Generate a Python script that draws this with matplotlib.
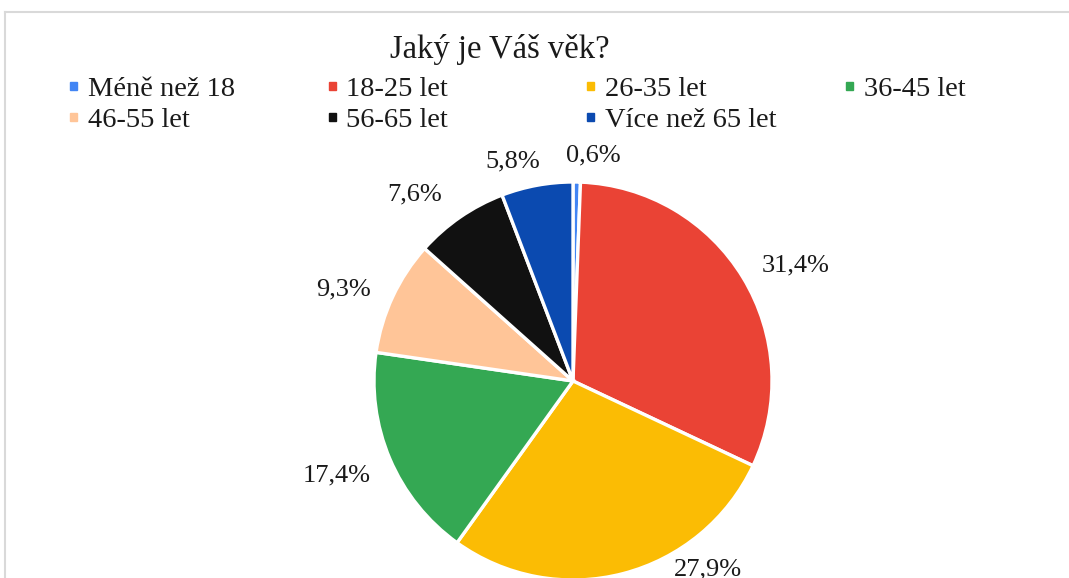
import matplotlib.pyplot as plt
from matplotlib.patches import Rectangle
from matplotlib.lines import Line2D

categories = ["Méně než 18", "18-25 let", "26-35 let", "36-45 let",
              "46-55 let", "56-65 let", "Více než 65 let"]
shares = [0.6, 31.4, 27.9, 17.4, 9.3, 7.6, 5.8]
labels = ["0,6%", "31,4%", "27,9%", "17,4%", "9,3%", "7,6%", "5,8%"]
colors = ["#4285F4", "#EA4335", "#FBBC04", "#34A853",
          "#FFC598", "#111111", "#0B4AB0"]

# label anchors (centre x, baseline y) in pie-radius units, best-fit like the original
label_pos = [(0.10, 1.102), (1.121, 0.548), (0.678, -0.975), (-1.186, -0.503),
             (-1.151, 0.429), (-0.794, 0.905), (-0.302, 1.072)]

plt.rcParams["font.family"] = ["Liberation Serif", "DejaVu Serif"]
TXT = "#1a1a1a"

W, H = 1069, 578
fig = plt.figure(figsize=(W / 100, H / 100), dpi=100)

# frame lines (top and left)
fig.add_artist(Line2D([5 / W, 1], [1 - 12 / H, 1 - 12 / H], color="#d9d9d9", lw=1.5))
fig.add_artist(Line2D([5 / W, 5 / W], [0, 1 - 12 / H], color="#d9d9d9", lw=1.5))

cx, cy, r = 573, 381, 199
ax = fig.add_axes([(cx - r) / W, (H - cy - r) / H, 2 * r / W, 2 * r / H])
ax.pie(shares, colors=colors, startangle=90, counterclock=False, radius=1,
       wedgeprops=dict(edgecolor="white", linewidth=2.4))
ax.set_xlim(-1, 1)
ax.set_ylim(-1, 1)
ax.set_aspect("equal")
ax.axis("off")
for (lx, ly), lab in zip(label_pos, labels):
    ax.text(lx, ly, lab, ha="center", va="baseline", fontsize=19, color=TXT)

fig.text(500 / W, 1 - 58 / H, "Jaký je Váš věk?", ha="center", va="baseline",
         fontsize=23.5, color=TXT)

# legend, 4 columns
for i, (name, c) in enumerate(zip(categories, colors)):
    col, row = i % 4, i // 4
    x = 70 + col * 258.5
    base = 96 + row * 31
    fig.add_artist(Rectangle((x / W, 1 - (base - 6) / H), 7 / W, 8 / H,
                             color=c, transform=fig.transFigure))
    fig.text((x + 18) / W, 1 - base / H, name, ha="left", va="baseline",
             fontsize=20.5, color=TXT)

fig.savefig("out.png", dpi=100)
